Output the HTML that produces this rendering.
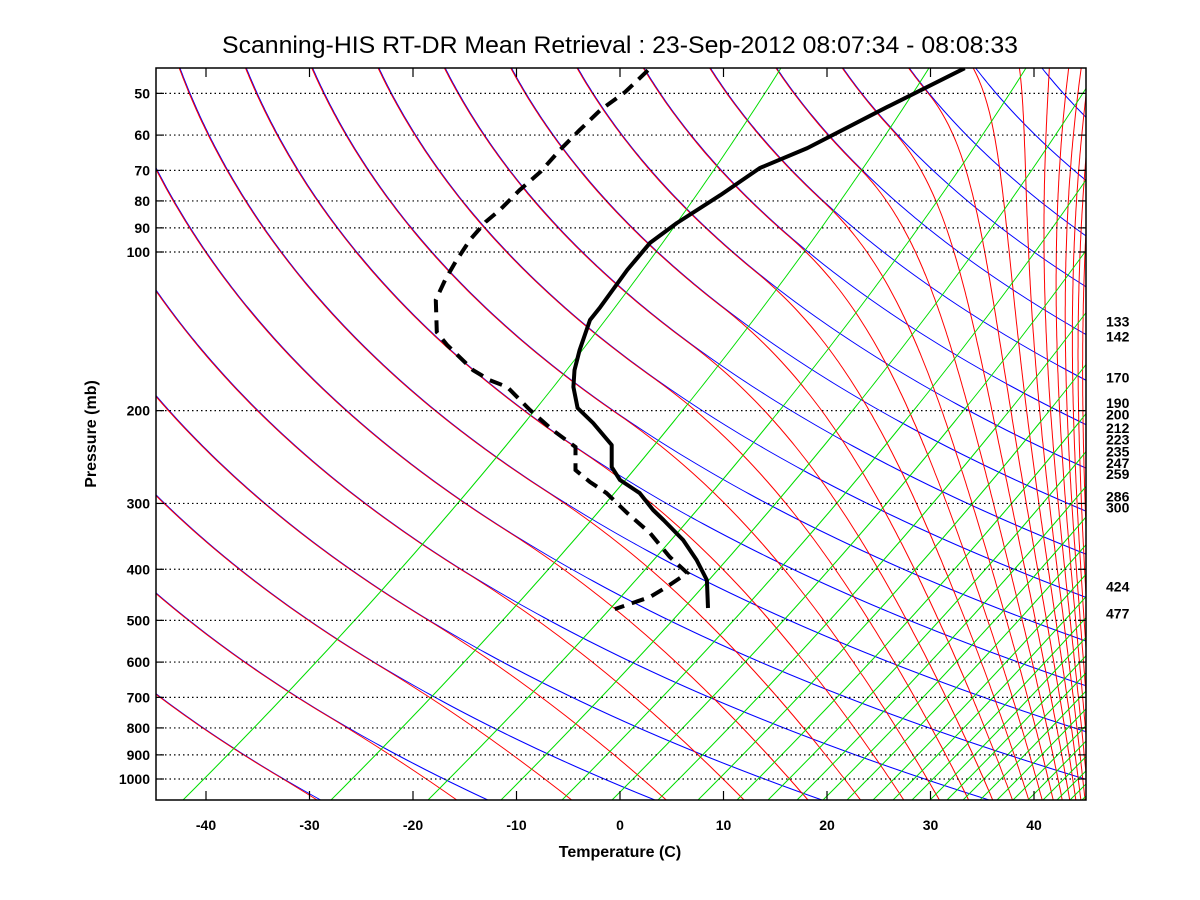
<!DOCTYPE html>
<html><head><meta charset="utf-8"><style>
html,body{margin:0;padding:0;background:#fff;}
svg{display:block;font-family:"Liberation Sans",Arial,sans-serif;}
</style></head><body>
<svg id="chart" width="1200" height="900" viewBox="0 0 1200 900">
<defs><clipPath id="clip"><rect x="156" y="68" width="930" height="732"/></clipPath></defs>
<rect x="0" y="0" width="1200" height="900" fill="#fff"/>
<text x="620" y="53" text-anchor="middle" font-size="24" textLength="796" lengthAdjust="spacingAndGlyphs" fill="#000">Scanning-HIS RT-DR Mean Retrieval : 23-Sep-2012 08:07:34 - 08:08:33</text>
<g id="grid" clip-path="url(#clip)"></g>
<g id="data" clip-path="url(#clip)"></g>
<rect x="156" y="68" width="930" height="732" fill="none" stroke="#000" stroke-width="1.5"/>
<g id="axes"></g>
<text x="620" y="857" text-anchor="middle" font-size="16" font-weight="bold">Temperature (C)</text>
<text transform="translate(96,434) rotate(-90)" text-anchor="middle" font-size="16" font-weight="bold">Pressure (mb)</text>
</svg>
<script>
// ---- data ----
const xTicks = [-40,-30,-20,-10,0,10,20,30,40];
const yTicks = [50,60,70,80,90,100,200,300,400,500,600,700,800,900,1000];
const levelLabels = [133,142,170,190,200,212,223,235,247,259,286,300,424,477];
const tempP = [44.8,53.1,63.5,69.3,78.0,88.1,96.1,108.2,127.2,134.6,153.5,167.5,180.4,197.7,211.1,232.4,255.9,270.8,286.7,308.7,322.5,352.0,384.1,419.3,473.7];
const tempT = [33.3,25.8,18.1,13.5,9.7,5.5,2.9,0.7,-1.9,-2.9,-3.9,-4.4,-4.5,-4.1,-2.6,-0.8,-0.8,0.0,1.9,3.2,4.2,6.1,7.4,8.4,8.5];
const dewP = [45.2,49.7,53.8,58.7,64.0,70.5,76.3,83.2,87.7,94.9,104.5,113.0,123.3,141.9,150.2,167.5,175.0,180.4,199.4,217.7,234.4,259.3,273.2,286.7,312.8,341.4,379.0,406.6,432.2,451.5,475.9];
const dewT = [2.7,0.5,-1.9,-3.9,-5.8,-7.7,-9.7,-11.6,-13.0,-14.5,-15.9,-16.9,-17.8,-17.7,-16.7,-14.2,-12.6,-10.9,-8.7,-6.5,-4.3,-4.3,-2.9,-1.3,0.7,2.9,4.8,6.5,4.5,2.9,-0.5];

// ---- axis functions ----
const X = t => 620 + 10.35*t;
const Y = p => 252 + 527*Math.log10(p/100);
const NS = 'http://www.w3.org/2000/svg';
function mk(tag, attrs, parent){const e=document.createElementNS(NS,tag);for(const k in attrs)e.setAttribute(k,attrs[k]);parent.appendChild(e);return e;}
const grid = document.getElementById('grid');
const axes = document.getElementById('axes');
const dataG = document.getElementById('data');

// background families (chart furniture)
function R(y){const d=y-68;return Math.exp(4.95e-4*d+1.049e-6*d*d);}
const X0=-572;
function redMap(z,y){const z0=250+(800-y)*0.96;const A=1105-z0;if(z<=z0)return z;return z0+A*(1-Math.exp(-(z-z0)/A));}
for(let k=-14;k<=20;k++){
  const xt=180+66.3*k; let pb='',pr='';
  for(let y=68;y<=800;y+=3){const xb=X0+(xt-X0)*R(y);pb+=(pb?'L':'M')+xb.toFixed(1)+','+y;const xr=redMap(xb,y)-0.8;pr+=(pr?'L':'M')+xr.toFixed(1)+','+y;}
  if(k<=16){
  const b=mk('path',{d:pb,fill:'none',stroke:'#0000ff','stroke-width':1},grid);
  
  
  }
  const r=mk('path',{d:pr,fill:'none',stroke:'#ff0000','stroke-width':1},grid);
  
  
}
const greenBottoms=[183,331,428,501,562,612,658,698,737,768,797,823,847,873,893,912,930,947,963,980,997,1013,1028,1043,1057,1070,1082];
greenBottoms.forEach(xb=>{let p='';for(let y=800;y>=68;y-=6){const d=800-y;const x=xb+d-0.00025*d*d;p+=(p?'L':'M')+x.toFixed(1)+','+y;}
  const g=mk('path',{d:p,fill:'none',stroke:'#00dd00','stroke-width':1},grid);
  
  
});
// dotted pressure gridlines + y ticks
yTicks.forEach(p=>{const y=Y(p);
  const l=mk('line',{x1:156,x2:1086,y1:y,y2:y,stroke:'#000','stroke-width':1.2,'stroke-dasharray':'1.5,3'},grid);
  
  
  mk('line',{x1:156,x2:164,y1:y,y2:y,stroke:'#000','stroke-width':1.2},axes);
  mk('line',{x1:1078,x2:1086,y1:y,y2:y,stroke:'#000','stroke-width':1.2},axes);
  const t=mk('text',{x:150,y:y+5,'text-anchor':'end','font-size':14,'font-weight':'bold'},axes);
  t.textContent=p;
  
  
});
xTicks.forEach(v=>{const x=X(v);
  mk('line',{x1:x,x2:x,y1:800,y2:791,stroke:'#000','stroke-width':1.2},axes);
  mk('line',{x1:x,x2:x,y1:68,y2:77,stroke:'#000','stroke-width':1.2},axes);
  const t=mk('text',{x:x,y:830,'text-anchor':'middle','font-size':14,'font-weight':'bold'},axes);
  t.textContent=v;
  
  
});
levelLabels.forEach(p=>{const t=mk('text',{x:1106,y:Y(p)+9,'font-size':14,'font-weight':'bold'},axes);
  t.textContent=p;
  
  
});
// profiles
function pathOf(P,T){return P.map((p,i)=>(i?'L':'M')+X(T[i]).toFixed(1)+','+Y(p).toFixed(1)).join('');}
const tl=mk('path',{d:pathOf(tempP,tempT),fill:'none',stroke:'#000','stroke-width':4,'stroke-linejoin':'round'},dataG);


const dl=mk('path',{d:pathOf(dewP,dewT),fill:'none',stroke:'#000','stroke-width':4,'stroke-dasharray':'13,8'},dataG);


</script>
</body></html>
